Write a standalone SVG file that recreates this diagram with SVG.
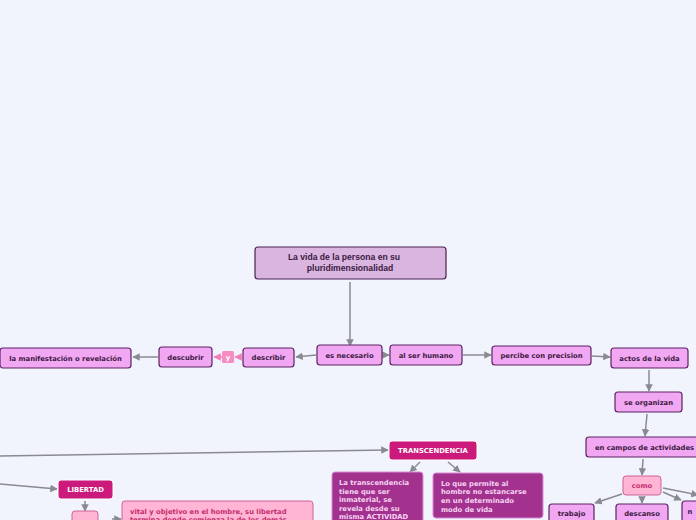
<svg xmlns="http://www.w3.org/2000/svg" width="696" height="520" viewBox="0 0 696 520">
<defs>
<marker id="ag" viewBox="0 0 10 10" refX="9" refY="5" markerWidth="5" markerHeight="5" orient="auto"><path d="M0,0 L10,5 L0,10 z" fill="#8a8a92"/></marker>
<marker id="ap" viewBox="0 0 10 10" refX="9" refY="5" markerWidth="5" markerHeight="5" orient="auto"><path d="M0,0 L10,5 L0,10 z" fill="#f07cb8"/></marker>
</defs>
<style>
.bg{fill:#f1f4fd}
.c{stroke:#8a8a92;stroke-width:1.5;fill:none;marker-end:url(#ag)}
.cp{stroke:#f07cb8;stroke-width:1.5;fill:none;marker-end:url(#ap)}
.root{fill:#d9b5e0;stroke:#4a2150;stroke-width:1.2}
.v{fill:#f2a7f2;stroke:#5a2463;stroke-width:1.2}
.m{fill:#cc1a7c;stroke:#ffffff;stroke-width:1}
.pu{fill:#a3328f;stroke:#d88ad0;stroke-width:1}
.pk{fill:#ffb5d3;stroke:#d0629a;stroke-width:1}
.y{fill:#f58cc4}
text{font-family:"DejaVu Sans",Verdana,sans-serif;font-weight:bold;font-size:6.8px}
.tr{font-family:"Liberation Sans",Arial,sans-serif;font-size:8.6px;fill:#3b1a42;text-anchor:middle}
.tv{fill:#3b1a42;text-anchor:middle}
.tm{fill:#ffffff;text-anchor:middle}
.tpu{fill:#f5d3f2}
.tpk{fill:#c42d6e}
</style>
<rect class="bg" x="0" y="0" width="696" height="520"/>
<g id="connectors">
<path class="c" d="M350,282 L350,346"/>
<path class="c" d="M316,355 L296,357"/>
<path class="cp" d="M242,357 L235,357"/>
<path class="cp" d="M222,357 L214,357"/>
<path class="c" d="M158,357 L133,357"/>
<path class="c" d="M383,355 L389,355"/>
<path class="c" d="M463,355 L491,355"/>
<path class="c" d="M592,356 L610,357"/>
<path class="c" d="M649,370 L649,391"/>
<path class="c" d="M647,414 L645,436"/>
<path class="c" d="M643,459 L642,475"/>
<path class="c" d="M622,494 L595,503"/>
<path class="c" d="M642,497 L642,503"/>
<path class="c" d="M663,492 L681,500"/>
<path class="c" d="M663,488 L698,495"/>
<path class="c" d="M0,456 L388,450"/>
<path class="c" d="M420,462 L410,472"/>
<path class="c" d="M448,462 L460,472"/>
<path class="c" d="M0,484 L57,489"/>
<path class="c" d="M85,501 L85,511"/>
<path class="c" d="M112,519 L121,519"/>
</g>
<g id="root"><rect class="root" x="255" y="247" width="191" height="32" rx="3"/><text class="tr" x="344" y="260">La vida de la persona en su</text><text class="tr" x="350" y="271">pluridimensionalidad</text></g>
<g id="es-necesario"><rect class="v" x="317" y="345" width="65" height="20" rx="3"/><text class="tv" x="349.5" y="357.5">es necesario</text></g>
<g id="al-ser-humano"><rect class="v" x="390" y="345" width="72" height="20" rx="3"/><text class="tv" x="426" y="357.5">al ser humano</text></g>
<g id="percibe"><rect class="v" x="492" y="346" width="99" height="19" rx="3"/><text class="tv" x="541.5" y="358">percibe con precision</text></g>
<g id="actos"><rect class="v" x="611" y="348" width="77" height="20" rx="3"/><text class="tv" x="649.5" y="360.5">actos de la vida</text></g>
<g id="describir"><rect class="v" x="243" y="348" width="51" height="19" rx="3"/><text class="tv" x="268.5" y="360">describir</text></g>
<g id="y"><rect class="y" x="222" y="351" width="12" height="12" rx="1.5"/><text class="tm" x="228" y="359.5">y</text></g>
<g id="descubrir"><rect class="v" x="159" y="347" width="53" height="20" rx="3"/><text class="tv" x="185.5" y="359.5">descubrir</text></g>
<g id="manifestacion"><rect class="v" x="0" y="348" width="131" height="20" rx="3"/><text class="tv" x="65.5" y="360.5">la manifestación o revelación</text></g>
<g id="se-organizan"><rect class="v" x="615" y="392" width="67" height="20" rx="3"/><text class="tv" x="648.5" y="404.5">se organizan</text></g>
<g id="campos"><rect class="v" x="586" y="437" width="112" height="20" rx="3"/><text class="tv" x="644.5" y="449.5">en campos de actividades</text></g>
<g id="como"><rect class="pk" x="623" y="476" width="38" height="19" rx="3"/><text class="tpk" x="642" y="488" text-anchor="middle">como</text></g>
<g id="trabajo"><rect class="v" x="549" y="504" width="45" height="20" rx="3"/><text class="tv" x="571.5" y="516">trabajo</text></g>
<g id="descanso"><rect class="v" x="616" y="504" width="52" height="20" rx="3"/><text class="tv" x="642" y="516">descanso</text></g>
<g id="n-node"><rect class="v" x="682" y="501" width="20" height="22" rx="3"/><text class="tv" x="692" y="514" text-anchor="start" dx="-2">n</text></g>
<g id="transcendencia"><rect class="m" x="389" y="441" width="88" height="19" rx="3"/><text class="tm" x="433" y="453">TRANSCENDENCIA</text></g>
<g id="trans-1"><rect class="pu" x="332" y="472" width="91" height="52" rx="3"/><text class="tpu" x="339" y="485">La transcendencia</text><text class="tpu" x="339" y="493.5">tiene que ser</text><text class="tpu" x="339" y="502">inmaterial, se</text><text class="tpu" x="339" y="510.5">revela desde su</text><text class="tpu" x="339" y="519">misma ACTIVIDAD</text></g>
<g id="trans-2"><rect class="pu" x="433" y="473" width="110" height="45" rx="3"/><text class="tpu" x="441" y="485.5">Lo que permite al</text><text class="tpu" x="441" y="494">hombre no estancarse</text><text class="tpu" x="441" y="503">en un determinado</text><text class="tpu" x="441" y="511.5">modo de vida</text></g>
<g id="libertad"><rect class="m" x="58" y="480" width="55" height="19" rx="3"/><text class="tm" x="85.5" y="492">LIBERTAD</text></g>
<g id="lib-small"><rect class="pk" x="72" y="511" width="26" height="14" rx="3"/></g>
<g id="lib-text"><rect class="pk" x="122" y="501" width="191" height="24" rx="3"/><text class="tpk" x="130" y="513.5">vital y objetivo en el hombre, su libertad</text><text class="tpk" x="130" y="521.5">termina donde comienza la de los demás</text></g>
</svg>
